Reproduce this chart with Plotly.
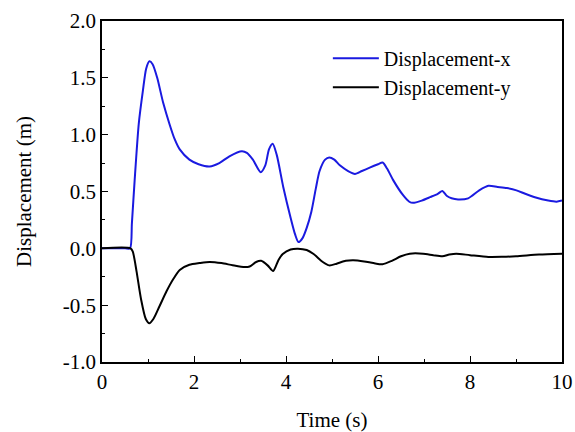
import plotly.graph_objects as go

t_x = [0, 0.5, 0.61, 0.65, 0.71, 0.8, 0.89, 0.96, 1.03, 1.1, 1.2, 1.33, 1.47, 1.58, 1.69, 1.9, 2.1,
       2.34, 2.55, 2.77, 3.04, 3.15, 3.28, 3.45, 3.55, 3.63, 3.71, 3.8, 3.94, 4.1, 4.2, 4.27, 4.36,
       4.45, 4.55, 4.65, 4.73, 4.85, 4.94, 5.05, 5.17, 5.35, 5.5, 5.65, 5.82, 6.0, 6.1, 6.2, 6.33,
       6.55, 6.68, 6.76, 6.95, 7.13, 7.3, 7.4, 7.5, 7.6, 7.74, 7.96, 8.2, 8.4, 8.6, 8.8, 9.01, 9.2,
       9.41, 9.7, 9.88, 10]
disp_x = [0, 0, 0.0, 0.22, 0.6, 1.1, 1.39, 1.58, 1.645, 1.62, 1.5, 1.28, 1.09, 0.96, 0.87, 0.78, 0.74,
          0.72, 0.75, 0.81, 0.855, 0.84, 0.78, 0.67, 0.73, 0.87, 0.92, 0.82, 0.54, 0.27, 0.12, 0.055, 0.09,
          0.18, 0.32, 0.53, 0.68, 0.78, 0.80, 0.78, 0.73, 0.68, 0.655, 0.68, 0.71, 0.74, 0.755, 0.70, 0.60,
          0.465, 0.41, 0.40, 0.42, 0.45, 0.48, 0.505, 0.46, 0.44, 0.43, 0.44, 0.51, 0.55, 0.54, 0.53, 0.51, 0.48,
          0.45, 0.42, 0.41, 0.42]

t_y = [0, 0.62, 0.67, 0.75, 0.85, 0.95, 1.03, 1.12, 1.25, 1.4, 1.55, 1.69, 1.9, 2.12, 2.34, 2.6, 2.84,
       3.1, 3.21, 3.35, 3.46, 3.6, 3.72, 3.84, 3.93, 4.1, 4.26, 4.45, 4.6, 4.8, 4.94, 5.1, 5.3, 5.46,
       5.7, 5.9, 6.1, 6.3, 6.5, 6.69, 6.98, 7.2, 7.4, 7.55, 7.7, 8.0, 8.4, 8.7, 9.0, 9.5, 10]
disp_y = [0, 0, -0.03, -0.2, -0.45, -0.62, -0.66, -0.62, -0.51, -0.38, -0.27, -0.19, -0.145, -0.13, -0.12,
          -0.13, -0.149, -0.165, -0.16, -0.12, -0.11, -0.15, -0.20, -0.10, -0.05, -0.01, -0.003, -0.015, -0.05,
          -0.12, -0.15, -0.135, -0.11, -0.105, -0.115, -0.13, -0.14, -0.11, -0.07, -0.047, -0.047, -0.06,
          -0.07, -0.055, -0.047, -0.06, -0.076, -0.075, -0.07, -0.055, -0.047]

x_tickvals = [0, 2, 4, 6, 8, 10]
x_ticktext = ["0", "2", "4", "6", "8", "10"]
y_tickvals = [-1.0, -0.5, 0.0, 0.5, 1.0, 1.5, 2.0]
y_ticktext = ["-1.0", "-0.5", "0.0", "0.5", "1.0", "1.5", "2.0"]

font = "Liberation Serif, Times New Roman, serif"

fig = go.Figure()
fig.add_trace(go.Scatter(x=t_x, y=disp_x, mode="lines", name="Displacement-x",
                         line=dict(color="#1a1ae0", width=2, shape="spline", smoothing=0.7)))
fig.add_trace(go.Scatter(x=t_y, y=disp_y, mode="lines", name="Displacement-y",
                         line=dict(color="black", width=2, shape="spline", smoothing=0.7)))

axis_common = dict(showline=True, linecolor="black", linewidth=1.5, mirror=True,
                   ticks="inside", ticklen=6, tickwidth=1.2, tickcolor="black",
                   showgrid=False, zeroline=False, automargin=False,
                   tickfont=dict(family=font, size=21, color="black"))

fig.update_xaxes(range=[0, 10], tickmode="array", tickvals=x_tickvals, ticktext=x_ticktext,
                 minor=dict(ticks="inside", ticklen=3.5, tickwidth=1.2, tickcolor="black",
                            tickmode="linear", tick0=0, dtick=1, showgrid=False),
                 title=dict(text="Time (s)", font=dict(family=font, size=21, color="black"), standoff=20),
                 **axis_common)
fig.update_yaxes(range=[-1.0, 2.0], tickmode="array", tickvals=y_tickvals, ticktext=y_ticktext,
                 minor=dict(ticks="inside", ticklen=3.5, tickwidth=1.2, tickcolor="black",
                            tickmode="linear", tick0=0, dtick=0.25, showgrid=False),
                 title=dict(text="Displacement (m)", font=dict(family=font, size=21, color="black"), standoff=25),
                 **axis_common)

fig.update_layout(
    width=575, height=432,
    margin=dict(l=102, r=13, t=21, b=70),
    paper_bgcolor="white", plot_bgcolor="white",
    showlegend=True,
    legend=dict(x=0.491, y=0.948, xanchor="left", yanchor="top",
                bgcolor="rgba(0,0,0,0)", borderwidth=0,
                font=dict(family=font, size=20, color="black"),
                tracegroupgap=0, itemwidth=46),
)

fig.write_html("out.html")
